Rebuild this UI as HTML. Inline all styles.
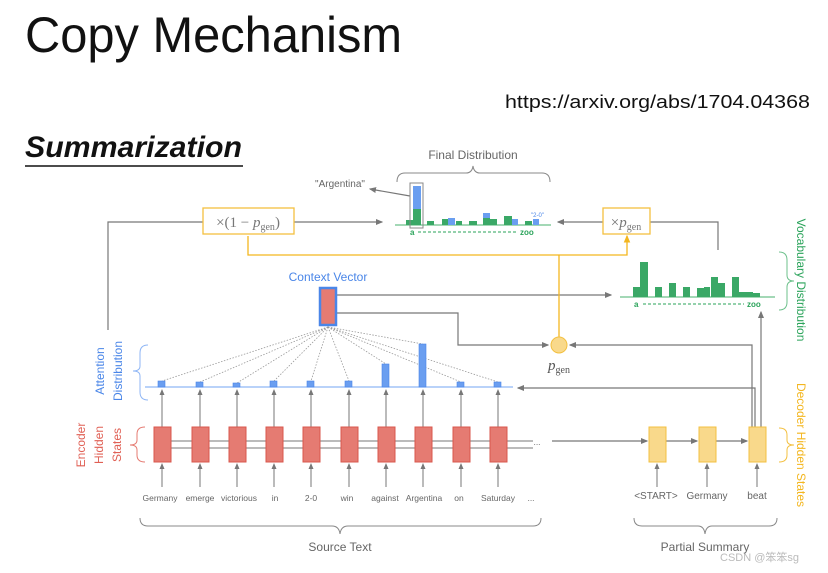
<!DOCTYPE html>
<html><head><meta charset="utf-8"><style>
html,body{margin:0;padding:0;background:#fff;}
svg{display:block;font-family:"Liberation Sans","Noto Sans CJK SC",sans-serif;}
</style></head><body>
<svg width="828" height="573" viewBox="0 0 828 573" xmlns="http://www.w3.org/2000/svg">
<defs>
<marker id="ag" markerWidth="6" markerHeight="6" refX="5" refY="3" orient="auto"><path d="M0,0.5 L6,3 L0,5.5 z" fill="#777"/></marker>
<marker id="ay" markerWidth="6" markerHeight="6" refX="5" refY="3" orient="auto"><path d="M0,0.5 L6,3 L0,5.5 z" fill="#f3b61f"/></marker>
</defs>
<text x="25" y="52" font-size="50" fill="#111" textLength="377" lengthAdjust="spacingAndGlyphs">Copy Mechanism</text>
<text x="505" y="108" font-size="18" fill="#111" textLength="305" lengthAdjust="spacingAndGlyphs">https://arxiv.org/abs/1704.04368</text>
<text x="25" y="157" font-size="30" font-weight="bold" font-style="italic" fill="#111" textLength="217" lengthAdjust="spacingAndGlyphs">Summarization</text>
<line x1="25" y1="166" x2="243" y2="166" stroke="#111" stroke-width="1.5"/>

<g fill="none" stroke="#777" stroke-width="1.2">
<polyline points="108,330 108,222 203,222"/>
<line x1="294" y1="222" x2="382" y2="222" marker-end="url(#ag)"/>
<line x1="603" y1="222" x2="558" y2="222" marker-end="url(#ag)"/>
<polyline points="718,250 718,222 650,222"/>
<line x1="410" y1="196" x2="370" y2="189" marker-end="url(#ag)"/>
<line x1="337" y1="295" x2="611" y2="295" marker-end="url(#ag)"/>
<polyline points="337,313 458,313 458,345 548,345" marker-end="url(#ag)"/>
<polyline points="752,427 752,345 570,345" marker-end="url(#ag)"/>
<polyline points="755,427 755,388 518,388" marker-end="url(#ag)"/>
<line x1="761" y1="427" x2="761" y2="312" marker-end="url(#ag)"/>
<line x1="552" y1="441" x2="647" y2="441" marker-end="url(#ag)"/>
<line x1="666" y1="441" x2="697" y2="441" marker-end="url(#ag)"/>
<line x1="716" y1="441" x2="747" y2="441" marker-end="url(#ag)"/>
</g>

<g fill="none" stroke="#f3b61f" stroke-width="1.3">
<polyline points="248,236 248,255 627,255 627,236" marker-end="url(#ay)"/>
<line x1="559" y1="255" x2="559" y2="337"/>
</g>
<circle cx="559" cy="345" r="8" fill="#f9d98b" stroke="#f3c040"/>
<text x="559" y="370" font-family="Liberation Serif,serif" font-style="italic" font-size="15" fill="#555" text-anchor="middle">p<tspan font-style="normal" font-size="10" dy="3">gen</tspan></text>

<rect x="203" y="208" width="91" height="26" fill="#fff" stroke="#f3c040" stroke-width="1.3"/>
<text x="248" y="227" font-family="Liberation Serif,serif" font-size="15" fill="#777" text-anchor="middle">×(1 − <tspan font-style="italic">p</tspan><tspan font-size="10" dy="3">gen</tspan><tspan dy="-3">)</tspan></text>
<rect x="603" y="208" width="47" height="26" fill="#fff" stroke="#f3c040" stroke-width="1.3"/>
<text x="626" y="227" font-family="Liberation Serif,serif" font-size="15" fill="#777" text-anchor="middle">×<tspan font-style="italic">p</tspan><tspan font-size="10" dy="3">gen</tspan></text>

<text x="473" y="159" font-size="12" fill="#666" text-anchor="middle">Final Distribution</text>
<path d="M397,182 Q397,173 405,173 L466,173 Q472,173 473,166 Q474,173 480,173 L542,173 Q550,173 550,182" fill="none" stroke="#888"/>
<text x="340" y="187" font-size="10" fill="#666" text-anchor="middle">"Argentina"</text>
<line x1="395" y1="225" x2="551" y2="225" stroke="#6cc08b" stroke-width="1.3"/>
<g fill="#3aa866">
<rect x="406" y="220" width="7" height="5"/><rect x="413" y="209" width="8" height="16"/><rect x="427" y="221" width="7" height="4"/><rect x="442" y="219" width="6" height="6"/><rect x="456" y="221" width="6" height="4"/><rect x="469" y="221" width="8" height="4"/><rect x="483" y="218" width="7" height="7"/><rect x="490" y="219" width="7" height="6"/><rect x="504" y="216" width="8" height="9"/><rect x="525" y="221" width="7" height="4"/>
</g>
<g fill="#6a9ef0">
<rect x="413" y="186" width="8" height="23"/><rect x="448" y="218" width="7" height="7"/><rect x="483" y="213" width="7" height="5"/><rect x="512" y="219" width="6" height="6"/><rect x="533" y="219" width="6" height="6"/>
</g>
<rect x="410" y="183" width="13" height="45" fill="none" stroke="#888"/>
<text x="531" y="217" font-size="6" fill="#4a86e8">"2-0"</text>
<text x="410" y="235" font-size="8" fill="#2aa35a" font-weight="bold">a</text>
<line x1="418" y1="232" x2="517" y2="232" stroke="#2aa35a" stroke-dasharray="3,2"/>
<text x="520" y="235" font-size="8" fill="#2aa35a" font-weight="bold">zoo</text>

<line x1="620" y1="297" x2="775" y2="297" stroke="#6cc08b" stroke-width="1.3"/>
<g fill="#3aa866">
<rect x="633" y="287" width="7" height="10"/><rect x="640" y="262" width="8" height="35"/><rect x="655" y="287" width="7" height="10"/><rect x="669" y="283" width="7" height="14"/><rect x="683" y="287" width="7" height="10"/><rect x="697" y="288" width="7" height="9"/><rect x="704" y="287" width="6" height="10"/><rect x="711" y="277" width="7" height="20"/><rect x="718" y="283" width="7" height="14"/><rect x="732" y="277" width="7" height="20"/><rect x="739" y="292" width="6" height="5"/><rect x="745" y="292" width="8" height="5"/><rect x="753" y="293" width="7" height="4"/>
</g>
<text x="634" y="307" font-size="8" fill="#2aa35a" font-weight="bold">a</text>
<line x1="643" y1="304" x2="744" y2="304" stroke="#2aa35a" stroke-dasharray="3,2"/>
<text x="747" y="307" font-size="8" fill="#2aa35a" font-weight="bold">zoo</text>

<text x="328" y="281" font-size="12" fill="#4a86e8" text-anchor="middle">Context Vector</text>
<rect x="320" y="288" width="16" height="37" fill="#e57b72" stroke="#4a86e8" stroke-width="2.5"/>

<g stroke="#999" stroke-dasharray="1.5,1.5" stroke-width="0.8">
<line x1="328" y1="327" x2="162" y2="381"/><line x1="328" y1="327" x2="200" y2="382"/><line x1="328" y1="327" x2="237" y2="383"/><line x1="328" y1="327" x2="274" y2="381"/><line x1="328" y1="327" x2="311" y2="381"/><line x1="328" y1="327" x2="349" y2="381"/><line x1="328" y1="327" x2="386" y2="364"/><line x1="328" y1="327" x2="423" y2="344"/><line x1="328" y1="327" x2="461" y2="382"/><line x1="328" y1="327" x2="498" y2="382"/>
</g>

<line x1="145" y1="387" x2="513" y2="387" stroke="#8fb6f5" stroke-width="1.3"/>
<g fill="#6a9ef0" stroke="#4a86e8" stroke-width="0.6">
<rect x="158" y="381" width="7" height="6"/><rect x="196" y="382" width="7" height="5"/><rect x="233" y="383" width="7" height="4"/><rect x="270" y="381" width="7" height="6"/><rect x="307" y="381" width="7" height="6"/><rect x="345" y="381" width="7" height="6"/><rect x="382" y="364" width="7" height="23"/><rect x="419" y="344" width="7" height="43"/><rect x="457" y="382" width="7" height="5"/><rect x="494" y="382" width="7" height="5"/>
</g>

<g fill="none" stroke="#777" stroke-width="1">
<line x1="162" y1="441" x2="533" y2="441"/><line x1="533" y1="448" x2="162" y2="448"/>
</g>
<g stroke="#777" stroke-width="1" fill="none">
<line x1="162" y1="487" x2="162" y2="464" marker-end="url(#ag)"/><line x1="162" y1="427" x2="162" y2="390" marker-end="url(#ag)"/>
<line x1="200" y1="487" x2="200" y2="464" marker-end="url(#ag)"/><line x1="200" y1="427" x2="200" y2="390" marker-end="url(#ag)"/>
<line x1="237" y1="487" x2="237" y2="464" marker-end="url(#ag)"/><line x1="237" y1="427" x2="237" y2="390" marker-end="url(#ag)"/>
<line x1="274" y1="487" x2="274" y2="464" marker-end="url(#ag)"/><line x1="274" y1="427" x2="274" y2="390" marker-end="url(#ag)"/>
<line x1="311" y1="487" x2="311" y2="464" marker-end="url(#ag)"/><line x1="311" y1="427" x2="311" y2="390" marker-end="url(#ag)"/>
<line x1="349" y1="487" x2="349" y2="464" marker-end="url(#ag)"/><line x1="349" y1="427" x2="349" y2="390" marker-end="url(#ag)"/>
<line x1="386" y1="487" x2="386" y2="464" marker-end="url(#ag)"/><line x1="386" y1="427" x2="386" y2="390" marker-end="url(#ag)"/>
<line x1="423" y1="487" x2="423" y2="464" marker-end="url(#ag)"/><line x1="423" y1="427" x2="423" y2="390" marker-end="url(#ag)"/>
<line x1="461" y1="487" x2="461" y2="464" marker-end="url(#ag)"/><line x1="461" y1="427" x2="461" y2="390" marker-end="url(#ag)"/>
<line x1="498" y1="487" x2="498" y2="464" marker-end="url(#ag)"/><line x1="498" y1="427" x2="498" y2="390" marker-end="url(#ag)"/>
</g>
<g fill="#e57b72" stroke="#d9574c" stroke-width="1">
<rect x="154" y="427" width="17" height="35"/><rect x="192" y="427" width="17" height="35"/><rect x="229" y="427" width="17" height="35"/><rect x="266" y="427" width="17" height="35"/><rect x="303" y="427" width="17" height="35"/><rect x="341" y="427" width="17" height="35"/><rect x="378" y="427" width="17" height="35"/><rect x="415" y="427" width="17" height="35"/><rect x="453" y="427" width="17" height="35"/><rect x="490" y="427" width="17" height="35"/>
</g>
<g font-size="8.5" fill="#666" text-anchor="middle">
<text x="160" y="501">Germany</text><text x="200" y="501">emerge</text><text x="239" y="501">victorious</text><text x="275" y="501">in</text><text x="311" y="501">2-0</text><text x="347" y="501">win</text><text x="385" y="501">against</text><text x="424" y="501">Argentina</text><text x="459" y="501">on</text><text x="498" y="501">Saturday</text><text x="531" y="501">...</text>
<text x="537" y="445">...</text>
</g>
<path d="M140,518 Q140,526 148,526 L332,526 Q339,526 340,534 Q341,526 348,526 L533,526 Q541,526 541,518" fill="none" stroke="#888"/>
<text x="340" y="551" font-size="12" fill="#666" text-anchor="middle">Source Text</text>

<g stroke="#777" fill="none">
<line x1="657" y1="487" x2="657" y2="464" marker-end="url(#ag)"/><line x1="707" y1="487" x2="707" y2="464" marker-end="url(#ag)"/><line x1="757" y1="487" x2="757" y2="464" marker-end="url(#ag)"/>
</g>
<g fill="#f9d98b" stroke="#f3c040">
<rect x="649" y="427" width="17" height="35"/><rect x="699" y="427" width="17" height="35"/><rect x="749" y="427" width="17" height="35"/>
</g>
<g font-size="10" fill="#666" text-anchor="middle">
<text x="656" y="499">&lt;START&gt;</text><text x="707" y="499">Germany</text><text x="757" y="499">beat</text>
</g>
<path d="M634,518 Q634,526 642,526 L698,526 Q704,526 705,534 Q706,526 712,526 L769,526 Q777,526 777,518" fill="none" stroke="#888"/>
<text x="705" y="551" font-size="12" fill="#666" text-anchor="middle">Partial Summary</text>
<text x="720" y="561" font-size="11" fill="#bbb">CSDN @笨笨sg</text>

<path d="M779,252 Q787,252 787,260 L787,275 Q787,281 794,281 Q787,281 787,287 L787,302 Q787,310 779,310" fill="none" stroke="#6cc08b"/>
<text transform="translate(797,280) rotate(90)" font-size="12" fill="#2aa35a" text-anchor="middle">Vocabulary Distribution</text>
<path d="M779,428 Q787,428 787,435 L787,440 Q787,445 794,445 Q787,445 787,450 L787,455 Q787,462 779,462" fill="none" stroke="#f3c040"/>
<text transform="translate(797,445) rotate(90)" font-size="12" fill="#f3b61f" text-anchor="middle">Decoder Hidden States</text>

<path d="M148,345 Q140,345 140,353 L140,366 Q140,371 133,371 Q140,371 140,376 L140,392 Q140,400 148,400" fill="none" stroke="#8fb6f5"/>
<text transform="translate(104,371) rotate(-90)" font-size="12" fill="#4a86e8" text-anchor="middle">Attention</text>
<text transform="translate(122,371) rotate(-90)" font-size="12" fill="#4a86e8" text-anchor="middle">Distribution</text>
<path d="M145,427 Q137,427 137,434 L137,440 Q137,445 130,445 Q137,445 137,450 L137,455 Q137,462 145,462" fill="none" stroke="#e57b72"/>
<text transform="translate(85,445) rotate(-90)" font-size="12" fill="#e06055" text-anchor="middle">Encoder</text>
<text transform="translate(103,445) rotate(-90)" font-size="12" fill="#e06055" text-anchor="middle">Hidden</text>
<text transform="translate(121,445) rotate(-90)" font-size="12" fill="#e06055" text-anchor="middle">States</text>
</svg>
</body></html>
